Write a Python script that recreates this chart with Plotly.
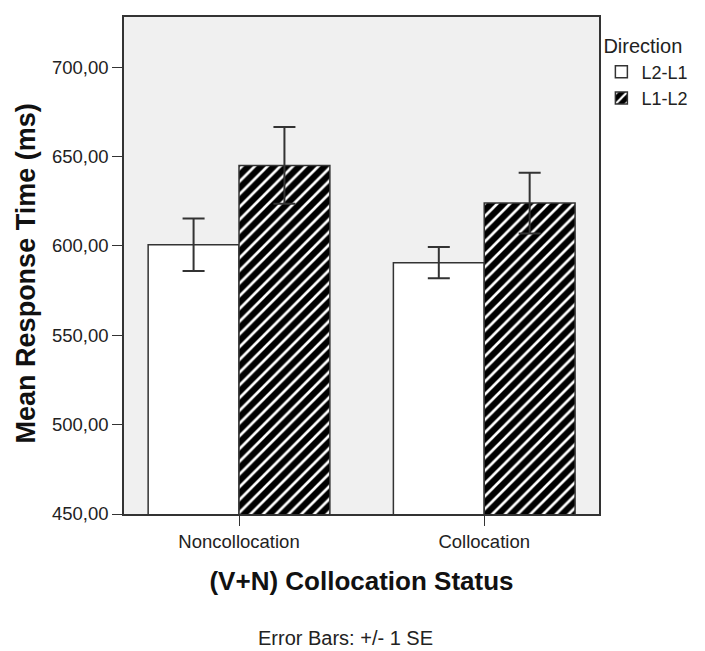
import plotly.graph_objects as go

categories = ["Noncollocation", "Collocation"]
l2l1_mean = [600.6, 590.6]
l2l1_se = [14.7, 8.7]
l1l2_mean = [645.0, 623.9]
l1l2_se = [21.5, 17.0]
y_ticks = [450, 500, 550, 600, 650, 700]

FONT = "Liberation Sans, Arial, sans-serif"
DARK = "#333333"
TXT = "#222222"

fig = go.Figure()
fig.add_trace(go.Bar(
    name="L2-L1", x=categories, y=l2l1_mean,
    marker=dict(color="white", line=dict(color=DARK, width=1.5)),
    error_y=dict(type="data", array=l2l1_se, color=DARK, thickness=2, width=11),
))
fig.add_trace(go.Bar(
    name="L1-L2", x=categories, y=l1l2_mean,
    marker=dict(color="black", line=dict(color=DARK, width=1.5),
                pattern=dict(shape="/", bgcolor="black", fgcolor="white",
                             size=9, solidity=0.3, fillmode="replace")),
    error_y=dict(type="data", array=l1l2_se, color=DARK, thickness=2, width=11),
))

fig.update_layout(
    width=705, height=651,
    margin=dict(l=124, r=104, t=17, b=137),
    paper_bgcolor="white", plot_bgcolor="#F0F0F0",
    barmode="group", bargap=0.259, bargroupgap=0,
    separators=",.",
    font=dict(family=FONT, size=18, color=TXT),
    showlegend=True,
    legend=dict(
        title=dict(text="Direction", font=dict(size=20, color=TXT)),
        x=1.005, xanchor="left", y=0.979, yanchor="top",
        font=dict(size=18, color=TXT),
        itemwidth=30, tracegroupgap=0, bgcolor="rgba(0,0,0,0)",
        traceorder="normal",
    ),
    xaxis=dict(
        range=[-0.469, 1.468], showgrid=False,
        showline=True, linecolor=DARK, linewidth=1.5, mirror=True,
        ticks="outside", ticklen=10, tickcolor=DARK, tickwidth=1,
        tickfont=dict(size=18.5, color=TXT),
        title=dict(text="<b>(V+N) Collocation Status</b>",
                   font=dict(size=26, color="#111111"), standoff=21),
    ),
    yaxis=dict(
        range=[450, 728], showgrid=False, zeroline=False,
        tickvals=y_ticks, tickformat=".2f",
        showline=True, linecolor=DARK, linewidth=1.5, mirror=True,
        ticks="outside", ticklen=10, tickcolor=DARK, tickwidth=1,
        tickfont=dict(size=18.5, color=TXT),
    ),
    annotations=[
        dict(text="<b>Mean Response Time (ms)</b>", xref="paper", yref="paper",
             x=(26 - 124) / 477, y=(514 - 273) / 497, textangle=-90,
             xanchor="center", yanchor="middle", showarrow=False,
             font=dict(size=27, color="#111111")),
        dict(text="Error Bars: +/- 1 SE", xref="paper", yref="paper",
             x=(346 - 124) / 477, y=-0.2505, xanchor="center", yanchor="middle",
             showarrow=False, font=dict(size=20, color=TXT)),
    ],
)

fig.write_html("out.html", config={"displayModeBar": False},
               post_script="document.body.style.margin='0px';")
